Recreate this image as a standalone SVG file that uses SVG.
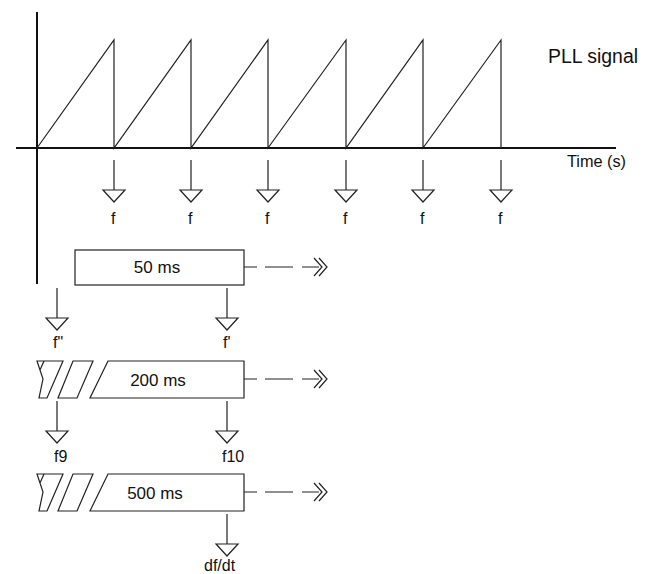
<svg xmlns="http://www.w3.org/2000/svg" width="652" height="574" viewBox="0 0 652 574">
<defs>
<style>
.ax{stroke:#111;stroke-width:2;fill:none}
.ln{stroke:#222;stroke-width:1.2;fill:none}
.box{stroke:#222;stroke-width:1.2;fill:#fff}
.t{font-family:"Liberation Sans",Arial,sans-serif;fill:#111}
.lab{font-size:16px}
.bt{font-size:17px;text-anchor:middle}
</style>
<path id="dn" d="M0,0 V30 M-11,30 H11 L0,42 Z" class="ln" fill="none"/>
<g id="brk">
<path d="M37,361 H63 L47,398 H39 L43,379 Z M44,361 L40,370" class="ln"/>
<path d="M73,361 H93 L77,398 H58 Z" class="ln"/>
</g>
<path id="darr" d="M0,0 H13 M21,0 H49 M58,0 H75 M70,-9 L78,0 L70,9 M75,-9 L83,0 L75,9" class="ln"/>
</defs>

<g id="axes">
<path class="ax" d="M37,12 V284"/>
<path class="ax" d="M16,148 H616"/>
<text class="t" x="548" y="63" font-size="20" textLength="90" lengthAdjust="spacingAndGlyphs">PLL signal</text>
<text class="t" x="567" y="167" font-size="16" textLength="59" lengthAdjust="spacingAndGlyphs">Time (s)</text>
</g>

<g id="signal">
<path class="ln" d="M37,148 L114,40 V148 L191,40 V148 L268,40 V148 L346,40 V148 L423,40 V148 L501,40 V148"/>
</g>

<g id="samples">
<use href="#dn" x="114" y="160"/>
<use href="#dn" x="191" y="160"/>
<use href="#dn" x="268" y="160"/>
<use href="#dn" x="346" y="160"/>
<use href="#dn" x="423" y="160"/>
<use href="#dn" x="501" y="160"/>
<text class="t lab" x="111" y="224">f</text>
<text class="t lab" x="188" y="224">f</text>
<text class="t lab" x="265" y="224">f</text>
<text class="t lab" x="343" y="224">f</text>
<text class="t lab" x="420" y="224">f</text>
<text class="t lab" x="498" y="224">f</text>
</g>

<g id="win50">
<rect class="box" x="75" y="250" width="169" height="35"/>
<text class="t bt" x="157" y="273">50 ms</text>
<use href="#darr" x="244" y="267"/>
</g>
<g id="out50">
<use href="#dn" x="57" y="288"/>
<use href="#dn" x="227" y="288"/>
<text class="t lab" x="53" y="348">f"</text>
<text class="t lab" x="223" y="348">f'</text>
</g>

<g id="win200">
<use href="#brk"/>
<path class="box" d="M108,361 H244 V398 H90 Z"/>
<text class="t bt" x="158" y="386">200 ms</text>
<use href="#darr" x="244" y="379"/>
</g>
<g id="out200">
<use href="#dn" x="57" y="401"/>
<use href="#dn" x="227" y="401"/>
<text class="t lab" x="54" y="462">f9</text>
<text class="t lab" x="222" y="462">f10</text>
</g>

<g id="win500">
<use href="#brk" y="113"/>
<path class="box" d="M108,474 H244 V511 H90 Z"/>
<text class="t bt" x="155" y="499">500 ms</text>
<use href="#darr" x="244" y="492"/>
</g>
<g id="out500">
<use href="#dn" x="227" y="514"/>
<text class="t lab" x="204" y="571">df/dt</text>
</g>
</svg>
